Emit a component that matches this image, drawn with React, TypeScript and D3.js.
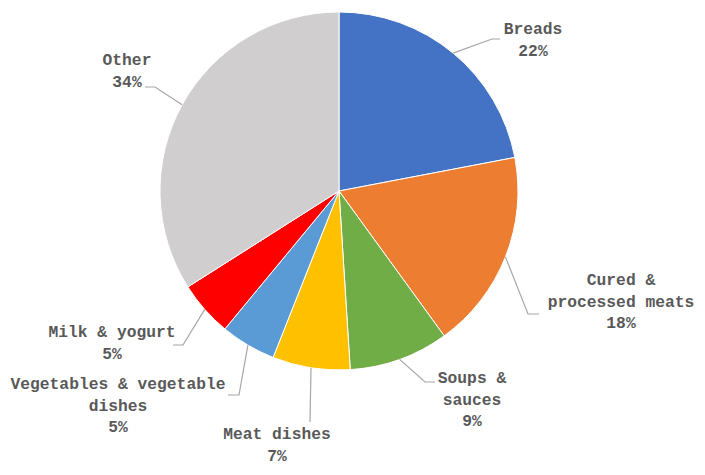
import React from 'react';
import * as d3 from 'd3';

// slice data, clockwise from 12 o'clock
const categories = [
  'Breads',
  'Cured & processed meats',
  'Soups & sauces',
  'Meat dishes',
  'Vegetables & vegetable dishes',
  'Milk & yogurt',
  'Other',
];
const shares = [22, 18, 9, 7, 5, 5, 34];
const colors = ['#4472C4', '#ED7D31', '#70AD47', '#FFC000', '#5B9BD5', '#FF0000', '#D0CECE'];
// wrapped label lines (without the percent line)
const labelLines = [
  ['Breads'],
  ['Cured &', 'processed meats'],
  ['Soups &', 'sauces'],
  ['Meat dishes'],
  ['Vegetables & vegetable', 'dishes'],
  ['Milk & yogurt'],
  ['Other'],
];

// label placement: text centre + first baseline, leader elbow, leader end
const labelPos = [
  { tx: 533, ty: 34, elbow: [492, 39], end: [500, 39] },
  { tx: 621, ty: 285, elbow: [528, 314], end: [539, 314] },
  { tx: 472, ty: 383, elbow: [425, 382], end: [435, 382] },
  { tx: 277, ty: 439, elbow: [310, 422], end: [310, 422] },
  { tx: 118, ty: 389, elbow: [239, 395], end: [228, 395] },
  { tx: 112, ty: 337, elbow: [183, 345], end: [173, 345] },
  { tx: 127, ty: 65, elbow: [155, 87], end: [145, 87] },
];

const W = 705;
const H = 475;
const cx = 339;
const cy = 191;
const radius = 179;
const lineH = 21.5;

export default function App() {
  const pie = d3.pie<number>().sort(null).value(d => d);
  const arcs = pie(shares);
  const arc = d3.arc<d3.PieArcDatum<number>>().innerRadius(0).outerRadius(radius);

  const total = d3.sum(shares);

  return (
    <svg width={W} height={H} style={{ position: 'absolute', left: 0, top: 0 }}>
      <rect width={W} height={H} fill="#fff" />
      <g transform={`translate(${cx},${cy})`}>
        {arcs.map((a, i) => (
          <path key={categories[i]} d={arc(a) || ''} fill={colors[i]} stroke="#fff" strokeWidth={1} />
        ))}
      </g>
      {arcs.map((a, i) => {
        const mid = (a.startAngle + a.endAngle) / 2;
        const sx = cx + radius * Math.sin(mid);
        const sy = cy - radius * Math.cos(mid);
        const p = labelPos[i];
        const pts = [[sx, sy], p.elbow, p.end];
        const line = d3.line()(pts as [number, number][]) || '';
        return <path key={'l' + i} d={line} fill="none" stroke="#A6A6A6" strokeWidth={1.2} />;
      })}
      {arcs.map((a, i) => {
        const p = labelPos[i];
        const lines = [...labelLines[i], `${Math.round((shares[i] / total) * 100)}%`];
        return (
          <text
            key={'t' + i}
            x={p.tx}
            y={p.ty}
            textAnchor="middle"
            fontFamily="'Liberation Mono', 'DejaVu Sans Mono', monospace"
            fontSize={16.3}
            fontWeight="bold"
            fill="#595959"
          >
            {lines.map((t, j) => (
              <tspan key={j} x={p.tx} dy={j === 0 ? 0 : lineH}>
                {t}
              </tspan>
            ))}
          </text>
        );
      })}
    </svg>
  );
}
